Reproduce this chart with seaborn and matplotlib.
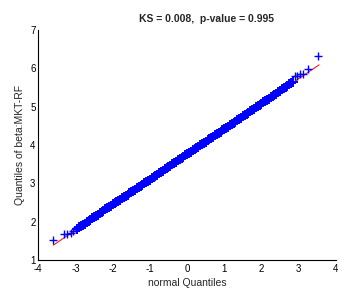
import matplotlib
matplotlib.use("Agg")
import matplotlib.pyplot as plt
import seaborn as sns
import pandas as pd

# Tail points (read individually)
tail_x = [-3.60, -3.31, -3.22, -3.12, -3.06, -3.00,
          2.90, 2.96, 3.03, 3.11, 3.24, 3.53]
tail_y = [1.53, 1.69, 1.69, 1.72, 1.77, 1.80,
          5.81, 5.81, 5.84, 5.85, 5.98, 6.32]

# Dense band (read along the band centre)
band_x = [-2.95, -2.90, -2.85, -2.80, -2.75, -2.70, -2.65, -2.60, -2.55, -2.50,
          -2.45, -2.40, -2.35, -2.30, -2.25, -2.20, -2.15, -2.10, -2.05, -2.00,
          -1.95, -1.90, -1.85, -1.80, -1.75, -1.70, -1.65, -1.60, -1.55, -1.50,
          -1.45, -1.40, -1.35, -1.30, -1.25, -1.20, -1.15, -1.10, -1.05, -1.00,
          -0.95, -0.90, -0.85, -0.80, -0.75, -0.70, -0.65, -0.60, -0.55, -0.50,
          -0.45, -0.40, -0.35, -0.30, -0.25, -0.20, -0.15, -0.10, -0.05, 0.00,
          0.05, 0.10, 0.15, 0.20, 0.25, 0.30, 0.35, 0.40, 0.45, 0.50,
          0.55, 0.60, 0.65, 0.70, 0.75, 0.80, 0.85, 0.90, 0.95, 1.00,
          1.05, 1.10, 1.15, 1.20, 1.25, 1.30, 1.35, 1.40, 1.45, 1.50,
          1.55, 1.60, 1.65, 1.70, 1.75, 1.80, 1.85, 1.90, 1.95, 2.00,
          2.05, 2.10, 2.15, 2.20, 2.25, 2.30, 2.35, 2.40, 2.45, 2.50,
          2.55, 2.60, 2.65, 2.70, 2.75, 2.80, 2.85]
band_y = [1.82, 1.86, 1.89, 1.92, 1.95, 1.99, 2.02, 2.05, 2.09, 2.12,
          2.15, 2.18, 2.22, 2.25, 2.28, 2.32, 2.35, 2.38, 2.41, 2.45,
          2.48, 2.51, 2.55, 2.58, 2.61, 2.64, 2.68, 2.71, 2.74, 2.78,
          2.81, 2.84, 2.87, 2.91, 2.94, 2.97, 3.00, 3.04, 3.07, 3.10,
          3.14, 3.17, 3.20, 3.23, 3.27, 3.30, 3.33, 3.37, 3.40, 3.43,
          3.46, 3.50, 3.53, 3.56, 3.60, 3.63, 3.66, 3.69, 3.73, 3.76,
          3.79, 3.83, 3.86, 3.89, 3.92, 3.96, 3.99, 4.02, 4.06, 4.09,
          4.12, 4.15, 4.19, 4.22, 4.25, 4.29, 4.32, 4.35, 4.38, 4.42,
          4.45, 4.48, 4.52, 4.55, 4.58, 4.61, 4.65, 4.68, 4.71, 4.75,
          4.78, 4.81, 4.84, 4.88, 4.91, 4.94, 4.98, 5.01, 5.04, 5.07,
          5.11, 5.14, 5.17, 5.21, 5.24, 5.27, 5.31, 5.34, 5.38, 5.41,
          5.45, 5.48, 5.52, 5.55, 5.58, 5.62, 5.65]

# Reference line endpoints
ref_x = [-3.60, 3.55]
ref_y = [1.39, 6.09]

x_ticks = [-4, -3, -2, -1, 0, 1, 2, 3, 4]
y_ticks = [1, 2, 3, 4, 5, 6, 7]

sns.set_style("white")
plt.rcParams['font.family'] = ['Liberation Sans', 'DejaVu Sans']
plt.rcParams['axes.unicode_minus'] = False

fig = plt.figure(figsize=(3.55, 2.99), dpi=100)
ax = fig.add_axes([0.108, 0.130, 0.838, 0.770])

sns.lineplot(x=ref_x, y=ref_y, ax=ax, color="red", linewidth=0.7)
sns.scatterplot(x=band_x, y=band_y, ax=ax, marker="+", color="#0000ff",
                s=55, linewidth=1.4, zorder=3)
sns.scatterplot(x=tail_x, y=tail_y, ax=ax, marker="+", color="#0000ff",
                s=30, linewidth=1.0, zorder=3)

ax.set_xlim(-4, 4)
ax.set_ylim(1, 7)
ax.set_xticks(x_ticks)
ax.set_yticks(y_ticks)
ax.tick_params(direction="in", length=3, width=0.8, labelsize=7, colors="black")
ax.tick_params(axis="x", pad=3)
ax.tick_params(axis="y", pad=2)
for s in ["top", "right"]:
    ax.spines[s].set_visible(False)
for s in ["left", "bottom"]:
    ax.spines[s].set_color("black")
    ax.spines[s].set_linewidth(0.8)

ax.set_xlabel("normal Quantiles", fontsize=7.5, labelpad=3)
ax.set_ylabel("Quantiles of beta:MKT-RF", fontsize=7.5, labelpad=4)
fig.text(0.583, 0.935, "KS = 0.008,  p-value = 0.995", fontsize=7.5,
         fontweight="bold", ha="center", va="center")

fig.savefig("out.png", dpi=100)
